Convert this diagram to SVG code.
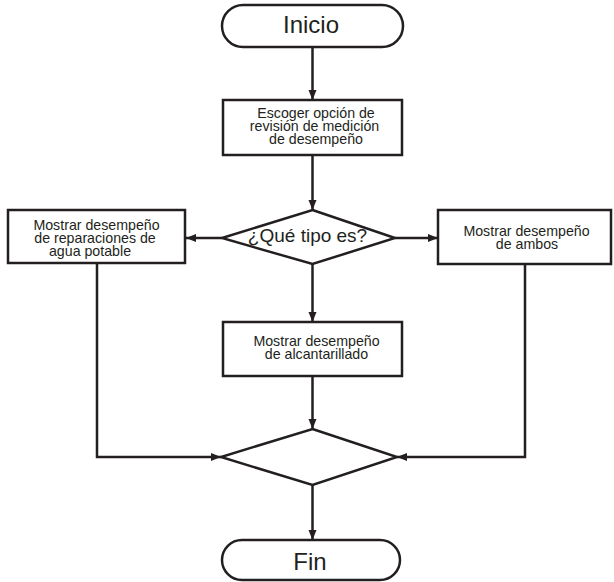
<svg xmlns="http://www.w3.org/2000/svg" width="614" height="582" viewBox="0 0 614 582">
<style>
.s{fill:#fff;stroke:#231f20;stroke-width:2.5}
.c{fill:none;stroke:#231f20;stroke-width:2.5}
.t{font-family:"Liberation Sans",Arial,sans-serif;fill:#231f20;text-anchor:middle}
.b{font-size:14.2px}
.big{font-size:24px}
</style>
<defs>
<marker id="ah" viewBox="0 0 10 10" refX="10" refY="5" markerWidth="10" markerHeight="10" markerUnits="userSpaceOnUse" orient="auto">
<path d="M0,1 L10,5 L0,9 z" fill="#231f20"/>
</marker>
</defs>
<g id="connectors">
<line class="c" x1="312.5" y1="47" x2="312.5" y2="100" marker-end="url(#ah)"/>
<line class="c" x1="312.5" y1="155" x2="312.5" y2="210" marker-end="url(#ah)"/>
<line class="c" x1="222" y1="238" x2="186" y2="238" marker-end="url(#ah)"/>
<line class="c" x1="395" y1="238" x2="438" y2="238" marker-end="url(#ah)"/>
<line class="c" x1="312.5" y1="264" x2="312.5" y2="322" marker-end="url(#ah)"/>
<line class="c" x1="312.5" y1="376" x2="312.5" y2="429" marker-end="url(#ah)"/>
<polyline class="c" points="97,263 97,457 221,457" marker-end="url(#ah)"/>
<polyline class="c" points="525,264 525,457 397,457" marker-end="url(#ah)"/>
<line class="c" x1="312.5" y1="485" x2="312.5" y2="540" marker-end="url(#ah)"/>
</g>
<g id="inicio">
<rect class="s" x="222" y="5" width="181" height="42" rx="21"/>
<text class="t big" x="311" y="33">Inicio</text>
</g>
<g id="escoger">
<rect class="s" x="223" y="100" width="179" height="55"/>
<text class="t b" x="316" y="118">Escoger opción de</text>
<text class="t b" x="314.5" y="131">revisión de medición</text>
<text class="t b" x="316" y="144">de desempeño</text>
</g>
<g id="decision">
<polygon class="s" points="312.5,210 395,238 312.5,264 222,238"/>
<text class="t" style="font-size:19px" x="307.5" y="242">¿Qué tipo es?</text>
</g>
<g id="agua">
<rect class="s" x="8" y="210" width="177" height="53"/>
<text class="t b" x="96.5" y="230">Mostrar desempeño</text>
<text class="t b" x="95" y="243">de reparaciones de</text>
<text class="t b" x="90" y="256">agua potable</text>
</g>
<g id="ambos">
<rect class="s" x="438" y="210" width="173" height="54"/>
<text class="t b" x="526.5" y="236">Mostrar desempeño</text>
<text class="t b" x="527" y="249">de ambos</text>
</g>
<g id="alcantarillado">
<rect class="s" x="223" y="322" width="179" height="54"/>
<text class="t b" x="316.5" y="346">Mostrar desempeño</text>
<text class="t b" x="316.5" y="359">de alcantarillado</text>
</g>
<g id="merge">
<polygon class="s" points="312.5,429 397,457 312.5,485 221,457"/>
</g>
<g id="fin">
<rect class="s" x="222" y="540" width="178" height="40" rx="20"/>
<text class="t big" x="310" y="570">Fin</text>
</g>
</svg>
